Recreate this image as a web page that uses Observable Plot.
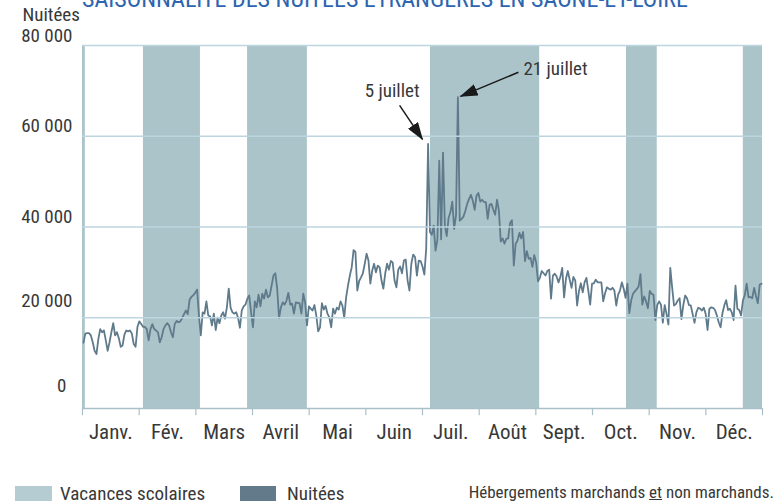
<!DOCTYPE html>
<html><head><meta charset="utf-8">
<script src="https://cdn.jsdelivr.net/npm/d3@7"></script>
<script src="https://cdn.jsdelivr.net/npm/@observablehq/plot@0.6"></script>
<style>
body{margin:0;background:#fff;}
#wrap{position:relative;width:777px;height:504px;overflow:hidden;font-family:"Liberation Sans Narrow","Roboto Condensed","DejaVu Sans Condensed","Liberation Sans",sans-serif;color:#383838;}
#title{position:absolute;left:82px;top:-13px;font-size:24px;line-height:24px;color:#2d65b0;white-space:nowrap;}
#chart{position:absolute;left:0;top:0;}
.sw{position:absolute;top:486px;height:15px;}
.lt{position:absolute;top:484px;font-size:19px;line-height:20px;white-space:nowrap;}
#note{position:absolute;right:3px;top:483px;font-size:17px;line-height:18px;white-space:nowrap;}
</style></head>
<body>
<div id="wrap">
  <div id="title">SAISONNALITÉ DES NUITÉES ÉTRANGÈRES EN SAÔNE-ET-LOIRE</div>
  <div id="chart"></div>
  <div class="sw" style="left:15px;width:37px;background:#b5ccd2"></div>
  <div class="lt" style="left:60px">Vacances scolaires</div>
  <div class="sw" style="left:240px;width:36px;background:#627a8a"></div>
  <div class="lt" style="left:287px">Nuitées</div>
  <div id="note">Hébergements marchands <u>et</u> non marchands.</div>
</div>
<script>
// Daily foreign overnight stays (thousands), day 0 = 1 January
const nuitees = [
14.5,16.5,16.6,16.6,16.1,14.6,12.7,12.0,15.3,17.5,
16.8,17.2,15.0,12.7,14.6,16.8,18.8,16.1,16.8,15.5,
13.6,13.9,16.3,17.2,17.0,17.2,16.5,14.2,13.6,18.0,
19.2,18.6,18.0,18.0,17.5,15.0,17.5,18.6,17.5,17.2,
16.8,14.6,15.7,17.5,18.3,18.8,18.3,16.8,15.7,18.6,
19.3,19.0,19.2,19.9,20.8,21.6,20.8,24.0,24.6,25.0,
25.5,26.2,20.5,16.1,21.2,20.9,23.6,20.5,20.3,18.3,
20.9,17.3,20.0,18.8,20.5,21.2,19.8,22.3,26.4,22.2,
21.2,20.9,21.2,20.0,17.8,21.6,22.5,22.9,24.2,24.9,
21.2,17.9,23.6,22.3,25.1,22.5,25.3,24.2,26.2,24.5,
24.9,27.1,29.3,29.8,26.4,19.9,22.3,23.4,22.9,23.8,
25.5,22.9,23.1,20.9,23.4,23.3,23.2,20.9,25.3,23.4,
18.3,22.5,22.0,21.6,22.8,20.5,17.0,17.9,23.2,21.8,
22.6,20.9,20.1,17.9,22.0,20.9,22.2,21.8,23.6,22.7,
20.0,24.5,27.1,29.3,31.1,34.9,34.5,26.0,28.1,28.9,
29.8,31.9,34.1,32.6,27.5,30.4,31.9,30.0,31.5,31.1,
28.2,26.4,29.8,31.9,30.6,32.5,32.2,28.2,26.7,30.6,
31.3,29.8,32.6,32.8,28.2,26.0,31.9,33.9,33.4,29.3,
32.6,32.5,31.3,29.5,35.3,58.3,38.9,38.3,40.3,34.8,
37.2,54.6,37.3,56.4,40.3,38.0,42.0,43.3,45.6,39.6,
42.6,68.6,41.4,41.8,42.3,43.6,45.1,46.2,47.1,45.8,
43.8,46.9,47.5,45.6,46.0,45.5,45.5,41.8,44.9,45.1,
43.8,42.7,46.0,43.6,36.8,37.5,36.3,37.4,37.5,40.9,
41.5,31.5,36.3,37.0,38.7,37.5,38.9,32.5,34.7,33.0,
33.2,31.2,33.8,32.2,28.0,28.8,30.3,29.8,29.3,30.3,
30.6,24.2,29.3,29.7,29.1,27.8,29.0,31.0,24.5,28.6,
30.3,28.4,26.6,29.0,28.2,22.7,25.9,27.6,25.6,27.8,
28.8,26.0,22.9,27.5,27.6,28.4,27.8,27.8,27.8,23.6,
25.4,26.7,26.4,26.2,26.6,26.0,22.7,25.1,26.0,27.8,
26.4,24.4,27.5,21.0,23.8,25.3,25.8,26.3,26.9,29.6,
22.9,24.7,23.6,22.1,25.9,25.3,25.0,19.5,22.8,23.6,
22.9,18.9,22.8,20.8,18.5,31.0,26.7,22.7,23.0,23.8,
24.3,19.7,22.8,24.9,24.3,22.8,22.7,20.8,18.9,21.2,
22.2,22.0,21.6,22.2,20.8,17.3,22.0,22.3,22.2,21.7,
20.5,19.0,17.9,21.0,22.7,23.9,21.7,22.0,21.2,19.5,
27.1,22.0,21.7,20.5,23.8,25.0,27.5,24.5,24.6,24.3,
26.6,24.8,23.2,27.3,27.5
];

// School holidays (day-of-year start / end)
const vacancesDebut = [0, 32.7, 88.6, 186.8, 292, 354.7];
const vacancesFin   = [1.5, 63.3, 120.7, 245.4, 308.5, 365];

const moisLabels = ["Janv.","Fév.","Mars","Avril","Mai","Juin","Juil.","Août","Sept.","Oct.","Nov.","Déc."];
const yTicks = [0, 20, 40, 60, 80];
const yTickLabels = ["0", "20 000", "40 000", "60 000", "80 000"];

// Annotations
const annoLabels = ["5 juillet", "21 juillet"];
const annoTextDay = [180.9, 236.7];
const annoTextVal = [69.9, 74.9];
const arrowFromDay = [170.2, 234.0];
const arrowFromVal = [66.8, 74.1];
const arrowToDay = [182.5, 202.9];
const arrowToVal = [59.3, 68.8];

const FONT = '"Liberation Sans Narrow","Roboto Condensed","DejaVu Sans Condensed","Liberation Sans",sans-serif';
const DAYS = 365;
const TXT = "#383838";
const monthBounds = d3.range(13).map(i => i * DAYS / 12);

const bands = vacancesDebut.map((s, i) => ({x1: s, x2: vacancesFin[i]}));
const arrows = arrowFromDay.map((d, i) => ({x1: d, y1: arrowFromVal[i], x2: arrowToDay[i], y2: arrowToVal[i]}));
const annos = annoLabels.map((t, i) => ({t, x: annoTextDay[i], y: annoTextVal[i]}));
const yLab = (d) => yTickLabels[yTicks.indexOf(d)];

function solidArrow(color) {
  const ns = "http://www.w3.org/2000/svg";
  const m = document.createElementNS(ns, "marker");
  m.setAttribute("viewBox", "0 -6 18 12");
  m.setAttribute("markerWidth", 18);
  m.setAttribute("markerHeight", 12);
  m.setAttribute("markerUnits", "userSpaceOnUse");
  m.setAttribute("refX", 17);
  m.setAttribute("refY", 0);
  m.setAttribute("orient", "auto");
  const p = document.createElementNS(ns, "path");
  p.setAttribute("d", "M0,-6L18,0L0,6Z");
  p.setAttribute("fill", color);
  p.setAttribute("stroke", "none");
  m.appendChild(p);
  return m;
}

const chart = Plot.plot({
  width: 777,
  height: 445,
  marginTop: 45,
  marginBottom: 37,
  marginLeft: 82,
  marginRight: 15,
  x: {domain: [0, DAYS], axis: null},
  y: {domain: [0, 80], axis: null},
  style: {fontFamily: FONT, fontSize: "20px", color: TXT, background: "transparent", overflow: "visible"},
  marks: [
    Plot.rect(bands, {x1: "x1", x2: "x2", y1: 0, y2: 80, fill: "#abc4ca"}),
    Plot.line(nuitees, {x: (d, i) => i + 0.5, y: d => d, stroke: "#5f7a8b", strokeWidth: 1.8, strokeLinejoin: "round"}),
    Plot.ruleY(yTicks.slice(1), {x1: 0, x2: DAYS, stroke: "#bcd5df", strokeWidth: 1.5}),
    Plot.ruleY([0], {x1: 0, x2: DAYS, stroke: "#a9c0c9", strokeWidth: 1.5}),
    Plot.ruleX(monthBounds, {y1: 0, y2: -1.6, stroke: "#a9c0c9", strokeWidth: 1.2}),
    Plot.text(moisLabels, {x: (d, i) => (i + 0.5) * DAYS / 12, y: 0, dy: 24, text: d => d, fontSize: 21, fill: TXT}),
    Plot.text(yTicks.filter(v => v >= 40), {x: 0, y: d => d, text: yLab, textAnchor: "end", dx: -10, dy: -10, fontSize: 19, fill: TXT}),
    Plot.text([20], {x: 0, y: d => d, text: yLab, textAnchor: "end", dx: -10, dy: -17, fontSize: 19, fill: TXT}),
    Plot.text([0], {x: 0, y: d => d, text: yLab, textAnchor: "end", dx: -16, dy: -23, fontSize: 19, fill: TXT}),
    Plot.text(["Nuitées"], {x: 0, y: 80, text: d => d, textAnchor: "start", dx: -60, dy: -31, fontSize: 19, fill: TXT}),
    Plot.link(arrows, {x1: "x1", y1: "y1", x2: "x2", y2: "y2", stroke: "#1a1a1a", strokeWidth: 1.5, markerEnd: solidArrow}),
    Plot.text(annos.slice(0, 1), {x: "x", y: "y", text: "t", textAnchor: "end", fontSize: 19, fill: TXT}),
    Plot.text(annos.slice(1), {x: "x", y: "y", text: "t", textAnchor: "start", fontSize: 19, fill: TXT})
  ]
});
document.getElementById("chart").appendChild(chart);
</script>
</body></html>
